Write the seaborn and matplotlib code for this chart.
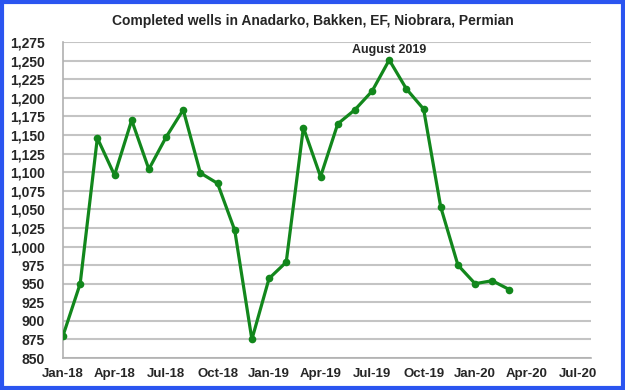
import matplotlib
matplotlib.use("Agg")
import matplotlib.pyplot as plt
import seaborn as sns
import pandas as pd
from matplotlib.patches import Rectangle
from matplotlib.ticker import FuncFormatter, MultipleLocator

months = ["Jan-18","Feb-18","Mar-18","Apr-18","May-18","Jun-18","Jul-18","Aug-18","Sep-18",
          "Oct-18","Nov-18","Dec-18","Jan-19","Feb-19","Mar-19","Apr-19","May-19","Jun-19",
          "Jul-19","Aug-19","Sep-19","Oct-19","Nov-19","Dec-19","Jan-20","Feb-20","Mar-20"]
wells = [880, 950, 1146, 1096, 1170, 1104, 1147, 1184, 1099, 1085, 1022, 875, 957, 979,
         1160, 1094, 1165, 1184, 1209, 1251, 1212, 1185, 1053, 975, 950, 954, 942]
tick_labels = ["Jan-18","Apr-18","Jul-18","Oct-18","Jan-19","Apr-19","Jul-19","Oct-19",
               "Jan-20","Apr-20","Jul-20"]

df = pd.DataFrame({"idx": range(len(months)), "month": months, "wells": wells})

sns.set_theme(style="white")
plt.rcParams['font.family'] = ['Liberation Sans', 'DejaVu Sans']
plt.rcParams['font.weight'] = 'bold'

fig = plt.figure(figsize=(6.25, 3.9), dpi=100)
ax = fig.add_axes([0.1008, 0.082, 0.8448, 0.810])

sns.lineplot(data=df, x="idx", y="wells", ax=ax, color="#12871c", linewidth=2.3,
             marker="o", markersize=5.5, markeredgewidth=0, zorder=3)

ax.set_xlim(0, 30.75)
ax.set_ylim(850, 1275)
ax.yaxis.set_major_locator(MultipleLocator(25))
ax.yaxis.set_major_formatter(FuncFormatter(lambda v, p: f"{int(v):,}"))
ax.set_xticks(range(0, 31, 3))
ax.set_xticklabels(tick_labels)
ax.grid(axis="y", color="#c4c4c4", linewidth=1.5)
ax.set_axisbelow(True)
for s in ["top", "right"]:
    ax.spines[s].set_visible(False)
for s in ["left", "bottom"]:
    ax.spines[s].set_color("#b0b0b0")
    ax.spines[s].set_linewidth(1.2)
ax.tick_params(axis="x", direction="out", length=3, color="#b0b0b0", width=1, pad=4, labelsize=9.5)
ax.tick_params(axis="y", direction="out", length=3, color="#b0b0b0", width=1, pad=10, labelsize=10)
for lab in ax.get_xticklabels() + ax.get_yticklabels():
    lab.set_fontweight("bold")
ax.set_xlabel("")
ax.set_ylabel("")

peak = wells.index(max(wells))
ax.annotate("August 2019", xy=(peak, wells[peak]), xytext=(0, 3), textcoords="offset points",
            ha="center", va="bottom", fontsize=9, fontweight="bold")

fig.text(0.5, 0.947, "Completed wells in Anadarko, Bakken, EF, Niobrara, Permian",
         ha="center", va="center", fontsize=10, fontweight="bold")

fig.patches.append(Rectangle((0.003, 0.004), 0.993, 0.992, transform=fig.transFigure,
                             fill=False, edgecolor="#2a55f0", linewidth=3, zorder=10))

fig.savefig("out.png", dpi=100)
